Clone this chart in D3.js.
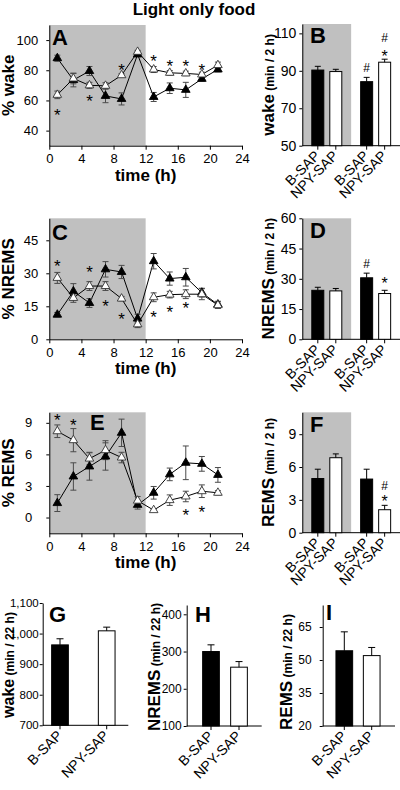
<!DOCTYPE html>
<html><head><meta charset="utf-8">
<script src="https://cdn.jsdelivr.net/npm/d3@7"></script>
<style>
body{margin:0;background:#fff;}
svg text{font-family:"Liberation Sans",Arial,sans-serif;}
</style></head><body>
<svg id="chart" width="400" height="790"></svg>
<script>
// ---------- DATA ----------
const times = [1,3,5,7,9,11,13,15,17,19,21];
const hourTicks = [0,4,8,12,16,20,24];

const wakeBSAP     = [88.0,73.5,79.5,63.0,61.0,90.5,62.3,68.1,67.0,74.3,80.5];
const wakeBSAPErr  = [2.0,4.5,3.0,4.5,4.0,1.5,3.0,3.5,5.0,1.5,1.5];
const wakeNPY      = [63.7,74.5,70.0,69.7,76.7,92.2,80.5,78.3,77.9,77.2,83.4];
const wakeNPYErr   = [2.5,3.5,2.0,2.0,1.0,1.0,2.0,1.5,1.5,1.5,2.0];

const nremsBSAP    = [11.2,21.8,16.5,31.8,30.6,9.4,35.5,27.6,28.2,21.2,15.8];
const nremsBSAPErr = [1.0,3.5,2.0,3.5,3.0,2.0,3.5,3.0,4.0,2.0,1.5];
const nremsNPY     = [27.9,18.8,24.2,24.2,18.5,6.8,19.1,20.3,20.5,20.5,15.5];
const nremsNPYErr  = [2.5,2.0,2.0,2.0,1.0,1.5,2.0,1.5,2.0,2.5,1.5];

const remsBSAP     = [1.37,3.9,4.85,5.8,8.05,1.2,2.35,4.1,5.2,5.1,4.05];
const remsBSAPErr  = [0.8,1.3,1.3,1.3,1.3,0.4,0.6,0.6,1.6,0.7,0.7];
const remsNPY      = [8.2,7.35,5.6,6.4,5.7,1.6,0.7,1.65,2.0,2.5,2.35];
const remsNPYErr   = [0.6,1.1,0.6,0.9,0.5,0.4,0.1,0.5,0.5,0.6,0.2];

// significance marks on time courses: [time, value-level]
const wakeStars  = [[1,52.3],[5,61.6],[9,82.2],[13,88.4],[15,85.3],[17,85.3],[19,82.2]];
const nremsStars = [[1,34.7],[5,32.2],[7,16.5],[9,10.8],[13,11.7],[15,13.8],[17,15.6]];
const remsStars  = [[1,9.55],[3,9.08],[17,0.55],[19,0.84]];

const phases = ["light","dark"];
const groups = ["B-SAP","NPY-SAP"];

const wake2hLight = [90.4,89.6],  wake2hLightErr = [2.0,1.2];
const wake2hDark  = [84.2,94.6],  wake2hDarkErr  = [2.3,1.6];
const nrems2hLight = [24.3,24.0], nrems2hLightErr = [1.5,1.2];
const nrems2hDark  = [30.5,22.7], nrems2hDarkErr  = [2.3,1.6];
const rems2hLight = [4.95,6.85],  rems2hLightErr = [0.85,0.35];
const rems2hDark  = [4.9,2.1],    rems2hDarkErr  = [0.9,0.4];

// bar marks: [phase, group, symbol, value-level]
const wake2hMarks  = [["dark","B-SAP","#",91.5],["dark","NPY-SAP","#",107.5],["dark","NPY-SAP","*",99.5]];
const nrems2hMarks = [["dark","B-SAP","#",37.7],["dark","NPY-SAP","*",29.4]];
const rems2hMarks  = [["dark","NPY-SAP","#",4.3],["dark","NPY-SAP","*",3.15]];

const wake22h  = [963,1009],  wake22hErr  = [20,12];
const nrems22h = [300,258],   nrems22hErr = [18,15];
const rems22h  = [54.2,52.0], rems22hErr  = [8.6,3.7];

const wakeTicks = [40,60,80,100], nremsTicks = [0,15,30,45], remsTicks = [0,3,6,9];
const wake2hTicks = [50,70,90,110], nrems2hTicks = [0,15,30,45,60], rems2hTicks = [0,3,6,9];
const wake22hTicks = [700,800,900,1000,1100], nrems22hTicks = [100,200,300,400], rems22hTicks = [20,35,50,65];

// ---------- DRAW ----------
const GRAY = "#c0c0c0";
const svg = d3.select("#chart");

svg.append("text").attr("x",194).attr("y",14.5).attr("text-anchor","middle")
  .attr("font-size",17).attr("font-weight","bold").text("Light only food");

function styleAxis(g, fs){
  g.selectAll("text").attr("font-size",fs).attr("fill","#000")
    .attr("font-family","'Liberation Sans',Arial,sans-serif");
  g.selectAll("line,path").attr("stroke","#000");
}

const x = d3.scaleLinear().domain([0,24]).range([49.3,242]);

function yLabel(g, xPos, cy, main, sub, fs){
  const t = g.append("text").attr("transform",`translate(${xPos},${cy}) rotate(-90)`)
    .attr("text-anchor","middle").attr("font-weight","bold");
  t.append("tspan").attr("font-size",fs||17).text(main);
  if (sub) t.append("tspan").attr("font-size",12).text(" " + sub);
}

function linePanel(c){
  const g = svg.append("g");
  const y = d3.scaleLinear().domain(c.domain).range([c.bottom,c.top]);
  g.append("rect").attr("x",x(0)).attr("y",c.top).attr("width",x(12)-x(0))
    .attr("height",c.bottom-c.top).attr("fill",GRAY);
  g.append("g").attr("transform",`translate(0,${c.bottom})`)
    .call(d3.axisBottom(x).tickValues(hourTicks).tickSize(4).tickPadding(4).tickSizeOuter(0))
    .call(styleAxis,13);
  g.append("g").attr("transform",`translate(${x(0)},0)`)
    .call(d3.axisLeft(y).tickValues(c.ticks).tickSize(3).tickPadding(c.pad).tickSizeOuter(0))
    .call(styleAxis,13);
  const series = [
    {v:c.b, e:c.be, fill:"#000"},
    {v:c.n, e:c.ne, fill:"#fff"}
  ];
  const line = d3.line().x((d,i)=>x(times[i])).y(d=>y(d));
  series.forEach(s=>{
    g.append("path").datum(s.v).attr("d",line).attr("fill","none").attr("stroke","#000").attr("stroke-width",1);
  });
  series.forEach(s=>{
    const eb = g.append("g").attr("stroke","#4a4a4a").attr("stroke-width",1);
    s.v.forEach((v,i)=>{
      const cx = x(times[i]), y1 = y(v+s.e[i]), y2 = y(v-s.e[i]);
      eb.append("line").attr("x1",cx).attr("x2",cx).attr("y1",y1).attr("y2",y2);
      eb.append("line").attr("x1",cx-3).attr("x2",cx+3).attr("y1",y1).attr("y2",y1);
      eb.append("line").attr("x1",cx-3).attr("x2",cx+3).attr("y1",y2).attr("y2",y2);
    });
  });
  const tri = d3.symbol().type(d3.symbolTriangle).size(32);
  series.forEach(s=>{
    g.selectAll(null).data(s.v).join("path").attr("d",tri)
      .attr("transform",(d,i)=>`translate(${x(times[i])},${y(d)})`)
      .attr("fill",s.fill).attr("stroke",s.fill==="#000"?"#000":"#333").attr("stroke-width",0.9);
  });
  g.selectAll(null).data(c.stars).join("text")
    .attr("x",d=>x(d[0])).attr("y",d=>y(d[1])).attr("dy","0.55em")
    .attr("text-anchor","middle").attr("font-size",17).text("*");
  g.append("text").attr("x",c.letter[0]).attr("y",c.letter[1]).attr("font-size",22)
    .attr("font-weight","bold").text(c.L);
  g.append("text").attr("x",(x(0)+x(24))/2).attr("y",c.bottom+35).attr("text-anchor","middle")
    .attr("font-size",17).attr("font-weight","bold").text("time (h)");
  yLabel(g,14,(c.top+c.bottom)/2,c.ylab);
}

linePanel({L:"A",top:25,bottom:145.7,domain:[30,110],ticks:wakeTicks,pad:8,
  b:wakeBSAP,be:wakeBSAPErr,n:wakeNPY,ne:wakeNPYErr,stars:wakeStars,letter:[52,45],ylab:"% wake"});
linePanel({L:"C",top:218.3,bottom:339.3,domain:[0,55],ticks:nremsTicks,pad:8,
  b:nremsBSAP,be:nremsBSAPErr,n:nremsNPY,ne:nremsNPYErr,stars:nremsStars,letter:[52,240],ylab:"% NREMS"});
linePanel({L:"E",top:412.3,bottom:533.3,domain:[-1.5,10],ticks:remsTicks,pad:14,
  b:remsBSAP,be:remsBSAPErr,n:remsNPY,ne:remsNPYErr,stars:remsStars,letter:[90,430],ylab:"% REMS"});

function drawBars(g, y, bars, capW, bw, bottom){
  bars.forEach(b=>{
    g.append("rect").attr("x",b.cx-bw/2).attr("y",y(b.v)).attr("width",bw)
      .attr("height",bottom-y(b.v)).attr("fill",b.g==="B-SAP"?"#000":"#fff")
      .attr("stroke","#000").attr("stroke-width",1);
    const yt = y(b.v+b.e);
    g.append("line").attr("x1",b.cx).attr("x2",b.cx).attr("y1",y(b.v)).attr("y2",yt).attr("stroke","#000");
    g.append("line").attr("x1",b.cx-capW/2).attr("x2",b.cx+capW/2).attr("y1",yt).attr("y2",yt).attr("stroke","#000");
    g.append("line").attr("x1",b.cx).attr("x2",b.cx).attr("y1",bottom).attr("y2",bottom+4).attr("stroke","#000");
    g.append("text").attr("transform",`translate(${b.cx+3},${bottom+11}) rotate(-45)`)
      .attr("text-anchor","end").attr("font-size",14).text(b.g);
  });
}
function marks(g, list, cxf, y){
  list.forEach(m=>{
    g.append("text").attr("x",cxf(m)).attr("y",y(m[3])).attr("text-anchor","middle")
      .attr("dy",m[2]==="*"?"0.55em":"0.36em").attr("font-size",m[2]==="*"?16:12).text(m[2]);
  });
}

function phasedPanel(c){
  const g = svg.append("g");
  const left = 302.3;
  const y = d3.scaleLinear().domain(c.domain).range([c.bottom,c.top]);
  const outer = d3.scaleBand().domain(phases).range([left,400]);
  const inner = d3.scalePoint().domain(groups).range([15.5,33.5]);
  g.append("rect").attr("x",outer("light")).attr("y",c.top).attr("width",outer.bandwidth())
    .attr("height",c.bottom-c.top).attr("fill",GRAY);
  g.append("line").attr("x1",left).attr("x2",400).attr("y1",c.bottom).attr("y2",c.bottom).attr("stroke","#000");
  g.append("g").attr("transform",`translate(${left},0)`)
    .call(d3.axisLeft(y).tickValues(c.ticks).tickSize(3).tickPadding(3).tickSizeOuter(0))
    .call(styleAxis,14);
  const bars = [];
  [[ "light", c.light, c.lightErr ], [ "dark", c.dark, c.darkErr ]].forEach(([p,vals,errs])=>{
    groups.forEach((gr,i)=>bars.push({cx:outer(p)+inner(gr),v:vals[i],e:errs[i],g:gr}));
  });
  drawBars(g,y,bars,6,12,c.bottom);
  marks(g,c.marks,m=>outer(m[0])+inner(m[1]),y);
  g.append("text").attr("x",310).attr("y",c.letter).attr("font-size",22).attr("font-weight","bold").text(c.L);
  yLabel(g,274,(c.top+c.bottom)/2,c.ylab,"(min / 2 h)");
}

phasedPanel({L:"B",top:24,bottom:145.7,domain:[50,115],ticks:wake2hTicks,light:wake2hLight,lightErr:wake2hLightErr,
  dark:wake2hDark,darkErr:wake2hDarkErr,marks:wake2hMarks,letter:43,ylab:"wake"});
phasedPanel({L:"D",top:218.3,bottom:339.3,domain:[0,60],ticks:nrems2hTicks,light:nrems2hLight,lightErr:nrems2hLightErr,
  dark:nrems2hDark,darkErr:nrems2hDarkErr,marks:nrems2hMarks,letter:238,ylab:"NREMS"});
phasedPanel({L:"F",top:412.3,bottom:532.7,domain:[0,11],ticks:rems2hTicks,light:rems2hLight,lightErr:rems2hLightErr,
  dark:rems2hDark,darkErr:rems2hDarkErr,marks:rems2hMarks,letter:432,ylab:"REMS"});

function totalPanel(c){
  const g = svg.append("g");
  const y = d3.scaleLinear().domain(c.domain).range([c.bottom,c.top]);
  const xp = d3.scalePoint().domain(groups).range(c.centers);
  g.append("line").attr("x1",c.left).attr("x2",c.right).attr("y1",c.bottom).attr("y2",c.bottom).attr("stroke","#000");
  g.append("g").attr("transform",`translate(${c.left},0)`)
    .call(d3.axisLeft(y).tickValues(c.ticks).tickSize(3).tickPadding(c.pad).tickSizeOuter(0))
    .call(styleAxis,c.fs);
  const bars = groups.map((gr,i)=>({cx:xp(gr),v:c.vals[i],e:c.errs[i],g:gr}));
  drawBars(g,y,bars,7,16.7,c.bottom);
  g.append("text").attr("x",c.letter[0]).attr("y",c.letter[1]).attr("font-size",22).attr("font-weight","bold").text(c.L);
  yLabel(g,c.labX,c.labY,c.ylab,"(min / 22 h)",c.labFs);
}
totalPanel({L:"G",left:42.7,right:128.3,top:603,bottom:725.3,domain:[700,1100],ticks:wake22hTicks,pad:1,fs:11.5,
  centers:[60,106.7],vals:wake22h,errs:wake22hErr,letter:[49,622],labX:13.5,labY:665,ylab:"wake",labFs:16});
totalPanel({L:"H",left:186.7,right:261.7,top:605,bottom:726,domain:[100,425],ticks:nrems22hTicks,pad:2,fs:12,
  centers:[211,239],vals:nrems22h,errs:nrems22hErr,letter:[195,622],labX:160,labY:667,ylab:"NREMS"});
totalPanel({L:"I",left:322.7,right:395,top:605,bottom:726,domain:[20,75],ticks:rems22hTicks,pad:8,fs:12,
  centers:[344.3,371.7],vals:rems22h,errs:rems22hErr,letter:[326,620],labX:292,labY:672,ylab:"REMS"});
</script>
</body></html>
